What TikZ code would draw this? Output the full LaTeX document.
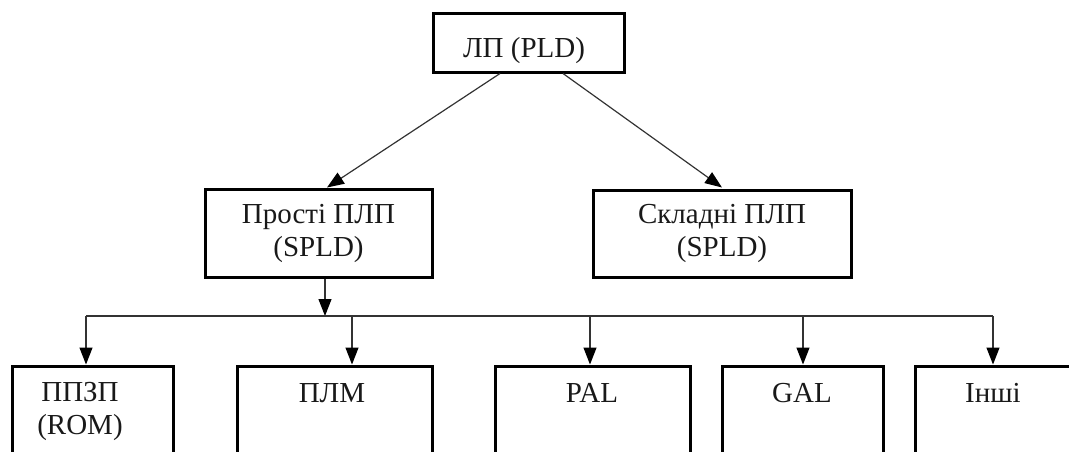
\documentclass[tikz,border=0pt]{standalone}
\usepackage{fontspec}
\setmainfont{Liberation Serif}
\usetikzlibrary{arrows.meta}
\begin{document}
\begin{tikzpicture}[x=1pt,y=-1pt,
  bbox/.style={draw=black, line width=3pt, inner sep=0pt, outer sep=0pt, anchor=north west},
  lbl/.style={font=\fontsize{29}{33}\selectfont, align=center, inner sep=0pt, text=black!90},
  conn/.style={line width=1.2pt, draw=black!80},
  arr/.style={conn, -{Triangle[length=17pt,width=13pt,fill=black,color=black]}}]
\useasboundingbox (0,0) rectangle (1069,451);
% boxes
\node[bbox, minimum width=191pt, minimum height=59pt] (top) at (433,13) {};
\node[bbox, minimum width=227pt, minimum height=88pt] (simple) at (205,189) {};
\node[bbox, minimum width=258pt, minimum height=87pt] (complex) at (593,190) {};
\node[bbox, minimum width=161pt, minimum height=120pt] (b1) at (12,366) {};
\node[bbox, minimum width=195pt, minimum height=120pt] (b2) at (237,366) {};
\node[bbox, minimum width=195pt, minimum height=120pt] (b3) at (495,366) {};
\node[bbox, minimum width=161pt, minimum height=120pt] (b4) at (722,366) {};
\node[bbox, minimum width=157pt, minimum height=120pt] (b5) at (915,366) {};
% labels
\node[lbl, anchor=base] (ttop) at (524,57) {ЛП (PLD)};
\node[lbl] (tsimple) at (simple.center) {Прості ПЛП\\(SPLD)};
\node[lbl] (tcomplex) at (complex.center) {Складні ПЛП\\(SPLD)};
\node[lbl] (tb1) at (80,411) {ППЗП\\(ROM)};
\node[lbl, anchor=base] (tb2) at (332,402) {ПЛМ};
\node[lbl, anchor=base] (tb3) at (592,402) {PAL};
\node[lbl, anchor=base] (tb4) at (802,402) {GAL};
\node[lbl, anchor=base] (tb5) at (993,402) {Інші};
% connectors from top
\draw[arr] ([xshift=-28.5pt,yshift=-1.5pt]top.south) -- ([xshift=8.5pt,yshift=1.5pt]simple.north);
\draw[arr] ([xshift=34.5pt,yshift=-1.5pt]top.south) -- ([yshift=2.5pt]complex.north);
% bus
\coordinate (jc) at (325,316);
\coordinate (j1) at (86,316);
\coordinate (j2) at (352,316);
\coordinate (j3) at (590,316);
\coordinate (j4) at (803,316);
\coordinate (j5) at (993,316);
\draw[arr] ([xshift=6.5pt,yshift=-1.5pt]simple.south) -- (jc);
\draw[conn] (j1) -- (j5);
\draw[arr] (j1) -- ([yshift=1.5pt]j1 |- b1.north);
\draw[arr] (j2) -- ([yshift=1.5pt]j2 |- b2.north);
\draw[arr] (j3) -- ([yshift=1.5pt]j3 |- b3.north);
\draw[arr] (j4) -- ([yshift=1.5pt]j4 |- b4.north);
\draw[arr] (j5) -- ([yshift=1.5pt]j5 |- b5.north);
\end{tikzpicture}
\end{document}
